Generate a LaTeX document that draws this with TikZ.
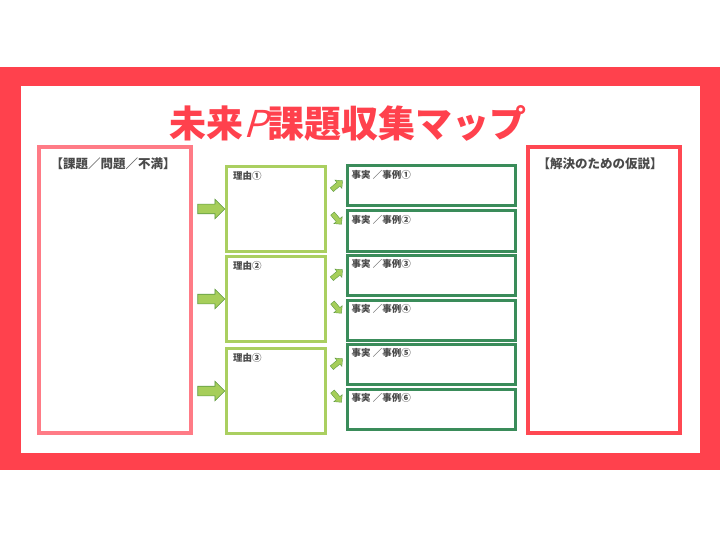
\documentclass[tikz,border=0pt]{standalone}
\usepackage{fontspec}
\usepackage{tikz}
\usetikzlibrary{positioning, shapes.arrows, calc}
\newfontfamily\jp{Noto Sans CJK JP}
\newfontfamily\jpslant{Noto Sans CJK JP}[FakeSlant=0.3]
\definecolor{bandred}{HTML}{FF414D}
\definecolor{probred}{HTML}{FF7B86}
\definecolor{hypred}{HTML}{FF4852}
\definecolor{reasongreen}{HTML}{AACF60}
\definecolor{factgreen}{HTML}{3A8C5A}
\definecolor{arrfill}{HTML}{A6CE5A}
\definecolor{arredge}{HTML}{5E9A44}
\definecolor{lbl}{HTML}{4A4A4A}
\tikzset{
  bigbox/.style={draw, line width=3.5pt, fill=white, inner sep=0pt,
                 minimum width=152pt, minimum height=286pt},
  reason/.style={draw=reasongreen, line width=3pt, fill=white, inner sep=0pt,
                 minimum width=99pt, minimum height=85pt},
  fact/.style={draw=factgreen, line width=3pt, fill=white, inner sep=0pt,
               minimum width=168pt, minimum height=40pt},
  head/.style={font=\jp\bfseries\fontsize{12.5}{14}\selectfont, text=lbl, inner sep=0pt},
  tag/.style={font=\jp\bfseries\fontsize{9.5}{11}\selectfont, text=lbl, inner sep=0pt},
  bigarr/.style={single arrow, fill=arrfill, draw=arredge, line width=0.6pt,
                 inner sep=4.5pt, minimum height=27pt, single arrow head extend=5pt},
  smallarr/.style={single arrow, fill=arrfill, draw=arredge, line width=0.4pt,
                   inner sep=2.2pt, minimum height=14pt, single arrow head extend=3pt},
}
\begin{document}
\begin{tikzpicture}[x=1pt, y=-1pt]
\useasboundingbox (0,0) rectangle (720,540);

% frame
\fill[bandred] (0,67) rectangle (720,470);
\fill[white] (21,86) rectangle (700,453);

\node[font=\jp\bfseries\fontsize{37}{40}\selectfont, text=bandred, inner sep=0pt] (title)
  at (348,123) {未来{\jpslant\mdseries P}課題収集マップ};

\node[bigbox, draw=probred] (prob) at (115,290) {};
\node[bigbox, draw=hypred] (hyp) at (604,290) {};
\node[head] at (113,164) {【課題／問題／不満】};
\node[head] at (600,164) {【解決のための仮説】};

\foreach \i/\y/\n in {1/209/①, 2/299/②, 3/391/③} {
  \node[reason] (reason\i) at (276,\y) {};
  \node[tag, anchor=west] at ([shift={(8,11)}]reason\i.north west) {理由\n};
  \node[bigarr] (in\i) at ($(prob.east |- reason\i)!0.5!(reason\i.west)$) {};
}

\foreach \i/\y/\n in {1/186/①, 2/231/②, 3/275/③, 4/320/④, 5/364/⑤, 6/409/⑥} {
  \node[fact] (fact\i) at (431,\y) {};
  \node[tag, anchor=west] at ([shift={(6,10)}]fact\i.north west) {事実 ／事例\n};
}

% small arrows from each reason to its two facts
\foreach \r/\a/\b in {1/1/2, 2/3/4, 3/5/6} {
  \node[smallarr, rotate=40] (up\r) at ($(reason\r.east |- fact\a)!0.5!(fact\a.west)$) {};
  \node[smallarr, rotate=-50] (dn\r) at ([yshift=13]$(reason\r.east |- fact\b)!0.5!(fact\b.west)$) {};
}

\end{tikzpicture}
\end{document}
